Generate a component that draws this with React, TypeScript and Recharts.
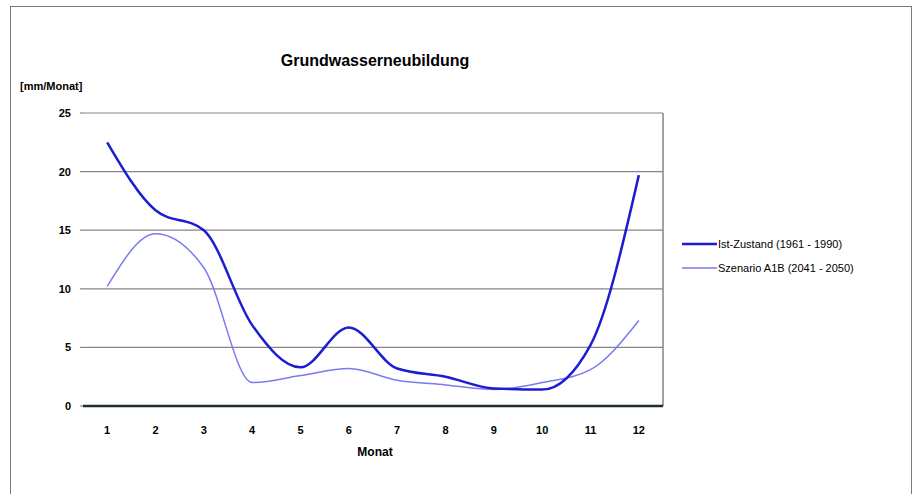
import React from 'react';
import { LineChart, Line, XAxis, YAxis, CartesianGrid, ReferenceLine } from 'recharts';

const months = [1, 2, 3, 4, 5, 6, 7, 8, 9, 10, 11, 12];
const istZustand = [22.5, 16.7, 15.0, 6.9, 3.3, 6.7, 3.2, 2.5, 1.5, 1.4, 5.2, 19.7];
const szenario = [10.2, 14.7, 11.8, 2.0, 2.6, 3.2, 2.2, 1.8, 1.4, 2.0, 3.1, 7.3];
const yTicks = [0, 5, 10, 15, 20, 25];
const seriesNames = ['Ist-Zustand (1961 - 1990)', 'Szenario A1B (2041 - 2050)'];
const seriesColors = ['#1c1cd2', '#7a7af0'];
const title = 'Grundwasserneubildung';
const yLabel = '[mm/Monat]';
const xLabel = 'Monat';

const data = months.map((m, i) => ({ month: m, ist: istZustand[i], sz: szenario[i] }));

const FONT = 'Arial, "Liberation Sans", sans-serif';

export default function App() {
  return (
    <div style={{ position: 'absolute', left: 0, top: 0, width: 915, height: 494, background: '#fff', overflow: 'hidden' }}>
      <div style={{ position: 'absolute', left: 10, top: 6, width: 900, height: 520, borderLeft: '1.5px solid #7a7a7a', borderTop: '1.5px solid #7a7a7a', borderRight: '1.5px solid #7a7a7a' }} />
      <div style={{ position: 'absolute', left: 0, top: 0 }}>
        <LineChart width={915} height={494} data={data} margin={{ top: 113, right: 252, bottom: 58, left: 0 }}>
          <CartesianGrid horizontal vertical={false} stroke="#858585" strokeWidth={1.2} />
          <XAxis
            dataKey="month"
            type="number"
            domain={[0.5, 12.5]}
            ticks={months}
            tickSize={0}
            tickMargin={20}
            height={30}
            axisLine={{ stroke: '#1e3326', strokeWidth: 2.5 }}
            tick={{ fontFamily: FONT, fontSize: 11, fill: '#000', fontWeight: 'bold' }}
          />
          <YAxis
            type="number"
            domain={[0, 25]}
            ticks={yTicks}
            axisLine={false}
            tickLine={{ stroke: '#858585', strokeWidth: 1.2 }}
            tickSize={3}
            tickMargin={9}
            width={83}
            tick={{ fontFamily: FONT, fontSize: 11, fill: '#000', fontWeight: 'bold' }}
          />
          <ReferenceLine x={12.5} stroke="#858585" strokeWidth={1.5} />
          <Line type="monotone" dataKey="sz" stroke={seriesColors[1]} strokeWidth={1.5} dot={false} isAnimationActive={false} />
          <Line type="monotone" dataKey="ist" stroke={seriesColors[0]} strokeWidth={2.5} dot={false} isAnimationActive={false} />
        </LineChart>
      </div>
      <div style={{ position: 'absolute', left: 682, top: 232, fontFamily: FONT, fontSize: 11, color: '#000' }}>
        {seriesNames.map((n, i) => (
          <div key={i} style={{ display: 'flex', alignItems: 'center', height: 24 }}>
            <svg width={35} height={10} style={{ marginRight: 1 }}>
              <line x1={0} y1={5} x2={35} y2={5} stroke={seriesColors[i]} strokeWidth={i === 0 ? 2.5 : 1.5} />
            </svg>
            <span>{n}</span>
          </div>
        ))}
      </div>
      <div style={{ position: 'absolute', left: 0, width: 750, top: 52, textAlign: 'center', fontFamily: FONT, fontWeight: 'bold', fontSize: 16, color: '#000' }}>{title}</div>
      <div style={{ position: 'absolute', left: 20, top: 80, fontFamily: FONT, fontWeight: 'bold', fontSize: 11, color: '#000' }}>{yLabel}</div>
      <div style={{ position: 'absolute', left: 0, width: 750, top: 445, textAlign: 'center', fontFamily: FONT, fontWeight: 'bold', fontSize: 12, color: '#000' }}>{xLabel}</div>
    </div>
  );
}
